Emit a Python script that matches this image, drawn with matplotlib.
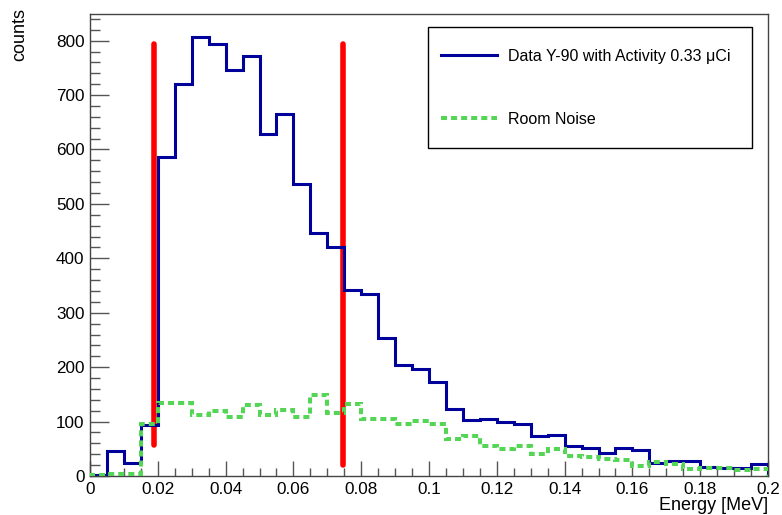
import numpy as np
import matplotlib
matplotlib.use("Agg")
import matplotlib.pyplot as plt
from matplotlib.patches import Rectangle
from matplotlib.ticker import MultipleLocator, FixedLocator, FixedFormatter

plt.rcParams['font.family'] = ['Liberation Sans', 'DejaVu Sans']

# histogram binning (40 bins of 0.005 MeV)
bin_edges = np.linspace(0.0, 0.2, 41)

# Y-90 source counts per bin
data_y90 = [1, 46, 23, 94, 587, 721, 807, 793, 746, 771,
            629, 666, 537, 447, 421, 342, 335, 254, 204, 196,
            172, 124, 102, 105, 99, 96, 74, 75, 55, 51,
            43, 51, 48, 24, 28, 28, 17, 15, 14, 22]

# room noise counts per bin
room_noise = [2, 3, 3, 95, 135, 134, 112, 119, 108, 131,
              112, 121, 108, 148, 115, 133, 105, 105, 96, 101,
              95, 68, 73, 55, 50, 56, 40, 50, 37, 35,
              31, 29, 18, 25, 22, 12, 14, 15, 11, 13]

# energy cut markers
cut_x = [0.019, 0.0747]
cut_low = [57, 20]
cut_high = [794, 794]

xtick_vals = [0, 0.02, 0.04, 0.06, 0.08, 0.1, 0.12, 0.14, 0.16, 0.18, 0.2]
xtick_labels = ["0", "0.02", "0.04", "0.06", "0.08", "0.1", "0.12", "0.14", "0.16", "0.18", "0.2"]

fig = plt.figure(figsize=(7.82, 5.15), dpi=100)
ax = fig.add_axes([90/782, 39/515, 678/782, 462/515])

ax.vlines(cut_x, cut_low, cut_high, color="#ff0000", linewidth=4.0, zorder=1, capstyle="round")
ax.stairs(data_y90, bin_edges, color="#00009a", linewidth=2.2, zorder=2,
          label=u"Data Y-90 with Activity 0.33 \u03bcCi")
ax.stairs(room_noise, bin_edges, color="#55d555", linewidth=2.9, zorder=3,
          linestyle=(0, (1.5, 1.0)), label="Room Noise")

ax.set_xlim(0, 0.2)
ax.set_ylim(0, 849)

ax.xaxis.set_major_locator(FixedLocator(xtick_vals))
ax.xaxis.set_major_formatter(FixedFormatter(xtick_labels))
ax.xaxis.set_minor_locator(MultipleLocator(0.005))
ax.yaxis.set_major_locator(MultipleLocator(100))
ax.yaxis.set_minor_locator(MultipleLocator(20))

ax.tick_params(axis="both", which="both", direction="in", colors="#555555",
               labelcolor="black", labelsize=12.3, width=1.0)
ax.tick_params(axis="x", which="major", length=11, pad=4)
ax.tick_params(axis="x", which="minor", length=5.5)
ax.tick_params(axis="y", which="major", length=14, pad=4)
ax.tick_params(axis="y", which="minor", length=7)

for s in ax.spines.values():
    s.set_color("#444444")
    s.set_linewidth(1.0)

fig.text(20/782, 1 - 8/515, "counts", rotation=90, ha="center", va="top", fontsize=13)
fig.text(768/782, 1 - 505/515, "Energy [MeV]", ha="right", va="center", fontsize=13)

# legend box (ROOT TLegend style)
ax.add_patch(Rectangle((0.4985, 0.71), 0.4779, 0.2619, transform=ax.transAxes,
                       facecolor="white", edgecolor="black", linewidth=1.0, zorder=4))
leg = ax.legend(loc="upper left", bbox_to_anchor=(0.5177, 0.9242),
                borderaxespad=0, borderpad=0, frameon=False,
                fontsize=11.5, handlelength=3.5, handletextpad=0.7, labelspacing=3.0)
leg.set_zorder(5)

fig.savefig("out.png", dpi=100)
